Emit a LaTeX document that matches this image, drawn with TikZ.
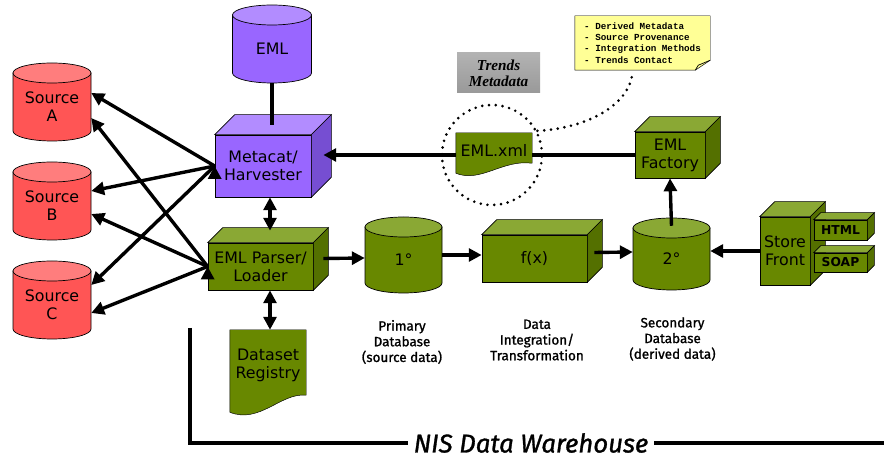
\documentclass[tikz,border=0pt]{standalone}
\usepackage{fontspec}
\setmainfont{DejaVu Sans}
\newfontfamily\labelfont{Fira Sans}[FakeBold=1.2]
\newfontfamily\notefont{Liberation Mono}
\newfontfamily\tagfont{Liberation Serif}
\usetikzlibrary{arrows.meta,backgrounds}

\definecolor{srcred}{RGB}{255,85,85}
\definecolor{srctop}{RGB}{255,125,125}
\definecolor{emlpurple}{RGB}{153,102,255}
\definecolor{emltop}{RGB}{178,140,255}
\definecolor{emlside}{RGB}{118,78,210}
\definecolor{dwgreen}{RGB}{104,136,0}
\definecolor{dwtop}{RGB}{138,168,52}
\definecolor{dwside}{RGB}{84,112,0}
\definecolor{noteyellow}{RGB}{255,255,150}

% top and side faces of a box node
\newcommand{\cubefaces}[4]{%
  \filldraw[fill=#3, line width=0.6pt] (#1.north west) -- ++(#2,-#2) -- ([shift={(#2,-#2)}]#1.north east) -- (#1.north east) -- cycle;
  \filldraw[fill=#4, line width=0.6pt] (#1.north east) -- ++(#2,-#2) -- ([shift={(#2,-#2)}]#1.south east) -- (#1.south east) -- cycle;}
% database drum: name, x, y, width, height, body colour, top colour, text
\newcommand{\drum}[8]{%
  \filldraw[fill=#6, line width=0.6pt] ({#2-#4/2},{#3-#5/2+10}) -- ({#2-#4/2},{#3+#5/2-10})
    arc[start angle=180, end angle=360, x radius=#4*0.015cm, y radius=0.3cm] -- ({#2+#4/2},{#3-#5/2+10}) -- cycle;
  \filldraw[fill=#7, line width=0.6pt] (#2,{#3-#5/2+10}) ellipse[x radius=#4*0.015cm, y radius=0.3cm];
  \node[minimum width=#4*0.03cm, minimum height=#5*0.03cm, label={[yshift=-0.14cm]center:#8}] (#1) at (#2,#3) {};}

\begin{document}
\begin{tikzpicture}[x=0.03cm, y=-0.03cm, >={Triangle[length=11pt,width=11pt]},
    every node/.style={font=\fontsize{13.5}{15.5}\selectfont, align=center},
    block/.style={draw, line width=0.6pt, fill=#1, inner sep=1pt},
    link/.style={line width=2.9pt},
    caption/.style={font=\labelfont\fontsize{11.5}{13.4}\selectfont},
    dots/.style={line width=2.5pt, line cap=round, dash pattern=on 0pt off 5.8pt}]
    \useasboundingbox (0,0) rectangle (884,460);

    \drum{srcA}{52}{102}{78}{78}{srcred}{srctop}{Source\\A}
    \drum{srcB}{52}{201}{78}{78}{srcred}{srctop}{Source\\B}
    \drum{srcC}{52}{300}{78}{78}{srcred}{srctop}{Source\\C}

    \drum{eml}{272}{44}{79}{78}{emlpurple}{emltop}{EML}
    \node[block=emlpurple, minimum width=2.88cm, minimum height=1.86cm] (metacat) at (263,166) {Metacat/\\Harvester};
    \cubefaces{metacat}{20}{emltop}{emlside}
    \node[block=dwgreen, minimum width=3.15cm, minimum height=1.41cm] (parser) at (260.5,266.5) {EML Parser/\\Loader};
    \cubefaces{parser}{15}{dwtop}{dwside}
    \node[minimum width=2.28cm, minimum height=2.1cm] (registry) at (268,365) {Dataset\\Registry};

    \drum{one}{403.5}{255}{77}{76}{dwgreen}{dwtop}{1°}
    \node[block=dwgreen, minimum width=3.15cm, minimum height=1.41cm] (fx) at (534.5,258.5) {f(x)};
    \cubefaces{fx}{15}{dwtop}{dwside}
    \drum{two}{671.5}{254}{77}{72}{dwgreen}{dwtop}{2°}
    \node[block=dwgreen, minimum width=2.1cm, minimum height=1.38cm] (factory) at (670,155) {EML\\Factory};
    \cubefaces{factory}{15}{dwtop}{dwside}
    \node[minimum width=2.28cm, minimum height=1.05cm] (xml) at (494,150.5) {EML.xml};

    \node[block=dwgreen, minimum width=1.5cm, minimum height=2.04cm] (store) at (785,251) {Store\\Front};
    \cubefaces{store}{15}{dwtop}{dwside}
    \node[block=dwgreen, minimum width=1.59cm, minimum height=0.6cm, font=\bfseries\fontsize{10.5}{12}\selectfont] (html) at (840.5,230) {HTML};
    \cubefaces{html}{7}{dwtop}{dwside}
    \node[block=dwgreen, minimum width=1.59cm, minimum height=0.57cm, font=\bfseries\fontsize{10.5}{12}\selectfont] (soap) at (840.5,262.5) {SOAP};
    \cubefaces{soap}{7}{dwtop}{dwside}

    \node[top color=gray!60, middle color=white, bottom color=gray!80, minimum width=2.49cm, minimum height=1.2cm,
      font=\tagfont\bfseries\itshape\fontsize{13}{14}\selectfont] (trends) at (498.5,73) {Trends\\Metadata};
    \node[align=left, minimum width=3.81cm, minimum height=1.5cm, inner sep=0pt,
      font=\notefont\bfseries\fontsize{7.9}{9.6}\selectfont] (note) at (642.5,43)
      {- Derived Metadata\\- Source Provenance\\- Integration Methods\\- Trends Contact};
    \node[circle, draw, dots, minimum size=3cm] (ring) at (492,155) {};

    \node[caption] (primary) at (402,342) {Primary\\Database\\(source data)};
    \node[caption] (integ) at (537,340) {Data\\Integration/\\Transformation};
    \node[caption] (secondary) at (672.5,339) {Secondary\\Database\\(derived data)};

    \node[inner sep=5pt, font=\labelfont\itshape\fontsize{22}{24}\selectfont] (whouse) at (531,443) {NIS Data Warehouse};
    \coordinate (wtop) at (190,328);
    \coordinate (wend) at (884,443);

    \begin{scope}[on background layer, line width=0.6pt]
      \filldraw[fill=dwgreen] (xml.north west) -- (xml.north east) -- ([shift={(0,-5)}]xml.south east)
        .. controls +(-30,-4) and +(25,10) .. ([shift={(0,5)}]xml.south west) -- cycle;
      \filldraw[fill=dwgreen] (registry.north west) -- (registry.north east) -- ([shift={(0,-5)}]registry.south east)
        .. controls +(-25,-3) and +(30,12) .. ([shift={(0,12)}]registry.south west) -- cycle;
      \filldraw[fill=noteyellow] ([shift={(-4,-2)}]note.north west) -- ([shift={(4,-2)}]note.north east)
        -- ([shift={(4,-8)}]note.south east) -- ([shift={(-11,2)}]note.south east) -- ([shift={(-4,2)}]note.south west) -- cycle;
    \end{scope}
    \draw[line width=0.6pt] ([shift={(4,-8)}]note.south east) -- ([shift={(-8,-3)}]note.south east) -- ([shift={(-11,2)}]note.south east);

    % connectors
    \draw[link] (eml.south) -- ([shift={(9,-10)}]metacat.north);
    \draw[link,->] (metacat.west) edge ([shift={(0,-9)}]srcA.east) edge ([shift={(0,-10)}]srcB.east) edge ([shift={(0,-15)}]srcC.east);
    \draw[link,->] (parser.west) edge ([shift={(0,16)}]srcA.east) edge ([shift={(0,13)}]srcB.east) edge ([shift={(0,13)}]srcC.east);
    \draw[link,<->] ([shift={(7,0)}]metacat.south) -- ([shift={(9.5,-12)}]parser.north);
    \draw[link,<->] ([shift={(9.5,0)}]parser.south) -- ([shift={(2,0)}]registry.north);
    \draw[link,->] ([shift={(10,-8)}]parser.east) -- ([shift={(0,3)}]one.west);
    \draw[link,->] (one.east) -- (fx.west |- one.east);
    \draw[link,->] ([shift={(7,-6)}]fx.east) -- ([shift={(0,-2)}]two.west);
    \draw[link,->] (store.west) -- (two.east |- store.west);
    \draw[link,->] ([shift={(0,8)}]two.north) -- (factory.south);
    \draw[link] (factory.west) -- (xml.east |- factory.west);
    \draw[link,->] (xml.west |- factory.west) -- ([shift={(12,-11)}]metacat.east);
    \draw[dots] (ring.28) .. controls +(45,-2) and +(-3,35) .. ([shift={(-10,4)}]note.south);

    \draw[line width=3.2pt] (wtop) |- (whouse.west);
    \draw[line width=3.2pt] (whouse.east) -- (wend);
\end{tikzpicture}
\end{document}
